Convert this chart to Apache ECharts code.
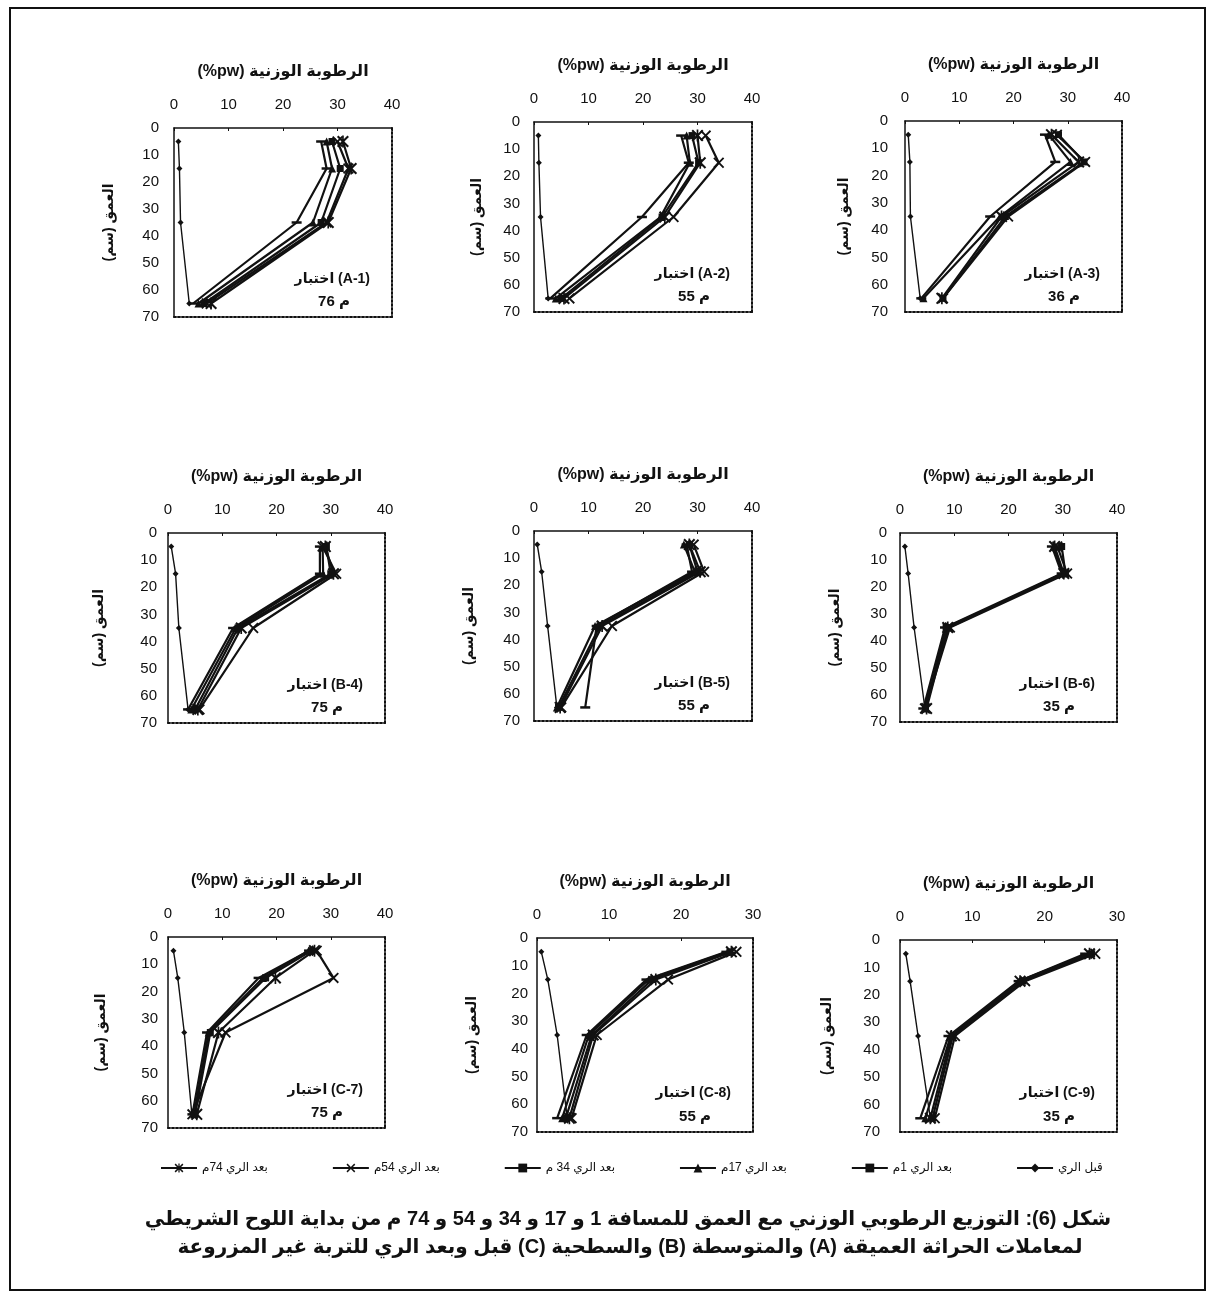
<!DOCTYPE html>
<html>
<head>
<meta charset="utf-8">
<script src="https://cdn.jsdelivr.net/npm/echarts@6/dist/echarts.min.js"></script>
<style>
html, body { margin: 0; padding: 0; background: #fff; }
#main { width: 1212px; height: 1297px; }
</style>
</head>
<body>
<div id="main"></div>
<script>
// العمق (سم) - نقاط القياس
var depths = [5, 15, 35, 65];
var seriesNames = ['قبل الري', 'بعد الري 1م', 'بعد الري 17م', 'بعد الري 34 م', 'بعد الري 54م', 'بعد الري 74م'];
var legendOrder = ['بعد الري 74م', 'بعد الري 54م', 'بعد الري 34 م', 'بعد الري 17م', 'بعد الري 1م', 'قبل الري'];
var panelTests = ['A-1', 'A-2', 'A-3', 'B-4', 'B-5', 'B-6', 'C-7', 'C-8', 'C-9'];
var panelDist = ['76', '55', '36', '75', '55', '35', '75', '55', '35'];
var panelXMax = [40, 40, 40, 40, 40, 40, 40, 30, 30];

// الرطوبة الوزنية %pw : صف لكل سلسلة (بنفس ترتيب seriesNames) و عمود لكل عمق
var A1 = [
    [0.8, 1.0, 1.2, 2.8],
    [27, 28, 22.5, 3.5],
    [28, 29, 25.5, 4.5],
    [29, 30.5, 27, 5.5],
    [30, 32, 28, 6],
    [31, 32.5, 28.3, 6.8]
];
var A2 = [
    [0.8, 0.9, 1.2, 2.6],
    [27, 28.4, 19.8, 3],
    [28, 28.6, 23.2, 4],
    [29, 30.2, 23.5, 5],
    [31.5, 33.9, 25.6, 6.5],
    [30, 30.5, 24, 5.5]
];
var A3 = [
    [0.6, 0.9, 1.0, 2.8],
    [25.8, 27.7, 15.7, 3],
    [26.5, 30.5, 17.5, 3.4],
    [28.3, 33, 18.5, 7],
    [28, 33.2, 19, 7],
    [27, 32, 17.8, 6.8]
];
var B4 = [
    [0.6, 1.4, 2.0, 3.7],
    [28, 28, 12, 3.7],
    [28.5, 28.6, 12.5, 4.3],
    [29.2, 30, 12.9, 5],
    [28.5, 31, 15.7, 5.8],
    [29, 30.5, 13.5, 5.5]
];
var B5 = [
    [0.6, 1.4, 2.5, 4.2],
    [28, 29, 11.5, 9.4],
    [27.5, 29.5, 11.2, 4.2],
    [28.5, 30, 12.1, 4.5],
    [29.3, 31.2, 14.3, 5],
    [28.5, 30.5, 12.5, 4.8]
];
var B6 = [
    [0.9, 1.5, 2.6, 4.6],
    [28, 29.8, 8.3, 4.3],
    [28.3, 30, 9, 4.5],
    [29.8, 30.5, 8.5, 4.7],
    [29, 30.8, 9.2, 4.6],
    [28.5, 30.2, 8.8, 4.9]
];
var C7 = [
    [1.0, 1.8, 3.0, 4.4],
    [26, 16.7, 7.2, 4.5],
    [25.9, 17.5, 7.5, 4.8],
    [26.5, 18, 7.8, 5],
    [27.4, 30.5, 10.6, 4.5],
    [27, 19.8, 9.3, 5.3]
];
var C8 = [
    [0.6, 1.5, 2.8, 4.2],
    [26.3, 15.2, 6.9, 2.8],
    [26.5, 15.5, 7.2, 3.5],
    [26.8, 16, 7.6, 4.0],
    [27.7, 18.2, 8.3, 4.8],
    [27, 16.5, 7.8, 4.5]
];
var C9 = [
    [0.8, 1.4, 2.5, 4.2],
    [25.6, 16.4, 6.7, 2.8],
    [26, 16.5, 7, 3.5],
    [26.5, 17, 7.3, 4.5],
    [27, 17.3, 7.6, 4.8],
    [26.2, 16.6, 7.1, 4.2]
];
var panels = [A1, A2, A3, B4, B5, B6, C7, C8, C9];

// layout of the 9 plots: left, top, width, height
var boxes = [
    [174, 128, 218, 189], [534, 122, 218, 190], [905, 121, 217, 191],
    [168, 533, 217, 190], [534, 531, 218, 190], [900, 533, 217, 189],
    [168, 937, 217, 191], [537, 938, 216, 194], [900, 940, 217, 192]
];
var yNameGaps = [58, 50, 54, 62, 58, 58, 60, 58, 66];
var yLabelMargins = [15, 14, 17, 11, 14, 13, 10, 9, 20];

var FONT = '"Liberation Sans", Arial, "DejaVu Sans", sans-serif';
var INK = '#111';

var symbols = [
    'diamond',
    'rect',
    'triangle',
    'rect',
    'path://M0,1.2L1.2,0L5,3.8L8.8,0L10,1.2L6.2,5L10,8.8L8.8,10L5,6.2L1.2,10L0,8.8L3.8,5Z',
    'path://M0,1.2L1.2,0L5,3.8L8.8,0L10,1.2L6.2,5L10,8.8L8.8,10L5,6.2L1.2,10L0,8.8L3.8,5Z M4.3,0L5.7,0L5.7,10L4.3,10Z'
];
var symbolSizes = [6, [10, 2.5], 8, 7, 11, 12];

var grids = [], xAxes = [], yAxes = [], series = [], graphics = [];

boxes.forEach(function (b, p) {
    grids.push({ left: b[0], top: b[1], width: b[2], height: b[3], containLabel: false });

    xAxes.push({
        type: 'value', gridIndex: p, position: 'top', min: 0, max: panelXMax[p], interval: 10,
        name: '(%pw) الرطوبة الوزنية', nameLocation: 'middle', nameGap: 48,
        nameTextStyle: { fontFamily: FONT, fontSize: 16, fontWeight: 'bold', color: INK },
        axisLine: { show: true, onZero: false, lineStyle: { color: INK, width: 1.5 } },
        axisTick: { show: true, inside: true, length: 3, lineStyle: { color: INK } },
        axisLabel: { margin: 16, fontFamily: FONT, fontSize: 15, color: INK },
        splitLine: { show: false }
    });
    xAxes.push({
        type: 'value', gridIndex: p, position: 'bottom', min: 0, max: panelXMax[p],
        axisLine: { show: true, onZero: false, lineStyle: { color: INK, width: 2, type: [2, 2] } },
        axisTick: { show: false }, axisLabel: { show: false }, splitLine: { show: false }
    });

    yAxes.push({
        type: 'value', gridIndex: p, inverse: true, min: 0, max: 70, interval: 10,
        name: 'العمق (سم)\u200F', nameLocation: 'middle', nameGap: yNameGaps[p], nameRotate: 90,
        nameTextStyle: { fontFamily: FONT, fontSize: 14, fontWeight: 'bold', color: INK },
        axisLine: { show: true, onZero: false, lineStyle: { color: INK, width: 1.5 } },
        axisTick: { show: false },
        axisLabel: { margin: yLabelMargins[p], fontFamily: FONT, fontSize: 15, color: INK },
        splitLine: { show: false }
    });
    yAxes.push({
        type: 'value', gridIndex: p, position: 'right', inverse: true, min: 0, max: 70,
        axisLine: { show: true, onZero: false, lineStyle: { color: INK, width: 2, type: [2, 2] } },
        axisTick: { show: false }, axisLabel: { show: false }, splitLine: { show: false }
    });

    panels[p].forEach(function (row, s) {
        series.push({
            name: seriesNames[s],
            type: 'line',
            xAxisIndex: p * 2,
            yAxisIndex: p * 2,
            data: row.map(function (v, i) { return [v, depths[i]]; }),
            symbol: symbols[s],
            symbolSize: symbolSizes[s],
            lineStyle: { color: INK, width: s === 0 ? 1.4 : 2.2 },
            itemStyle: { color: INK },
            animation: false
        });
    });

    // اسم الاختبار والمسافة داخل الرسم
    graphics.push({
        type: 'text', x: b[0] + b[2] - 22, y: b[1] + b[3] * 0.8,
        style: { text: 'اختبار (' + panelTests[p] + ')', font: 'bold 14px ' + FONT, fill: INK, align: 'right', verticalAlign: 'middle' }
    });
    graphics.push({
        type: 'text', x: b[0] + b[2] - 58, y: b[1] + b[3] * 0.92,
        style: { text: 'م ' + panelDist[p], font: 'bold 15px ' + FONT, fill: INK, align: 'center', verticalAlign: 'middle' }
    });
});

// الاطار
graphics.push({
    type: 'rect', shape: { x: 10, y: 8, width: 1195, height: 1282 },
    style: { fill: 'none', stroke: INK, lineWidth: 2 }
});
// عنوان الشكل
graphics.push({
    type: 'text', x: 628, y: 1219,
    style: { text: '\u202Bشكل (6): التوزيع الرطوبي الوزني مع العمق للمسافة 1 و 17 و 34 و 54 و 74 م من بداية اللوح الشريطي\u202C', font: 'bold 20px ' + FONT, fill: INK, align: 'center', verticalAlign: 'middle' }
});
graphics.push({
    type: 'text', x: 630, y: 1247,
    style: { text: '\u202Bلمعاملات الحراثة العميقة (A) والمتوسطة (B) والسطحية (C) قبل وبعد الري للتربة غير المزروعة\u202C', font: 'bold 20px ' + FONT, fill: INK, align: 'center', verticalAlign: 'middle' }
});

var myChart = echarts.init(document.getElementById('main'));
myChart.setOption({
    backgroundColor: '#fff',
    animation: false,
    legend: {
        data: legendOrder,
        left: 155, top: 1157,
        itemGap: 64, itemWidth: 36, itemHeight: 11,
        textStyle: { fontFamily: FONT, fontSize: 12, color: INK }
    },
    grid: grids,
    xAxis: xAxes,
    yAxis: yAxes,
    series: series,
    graphic: graphics
});
</script>
</body>
</html>
